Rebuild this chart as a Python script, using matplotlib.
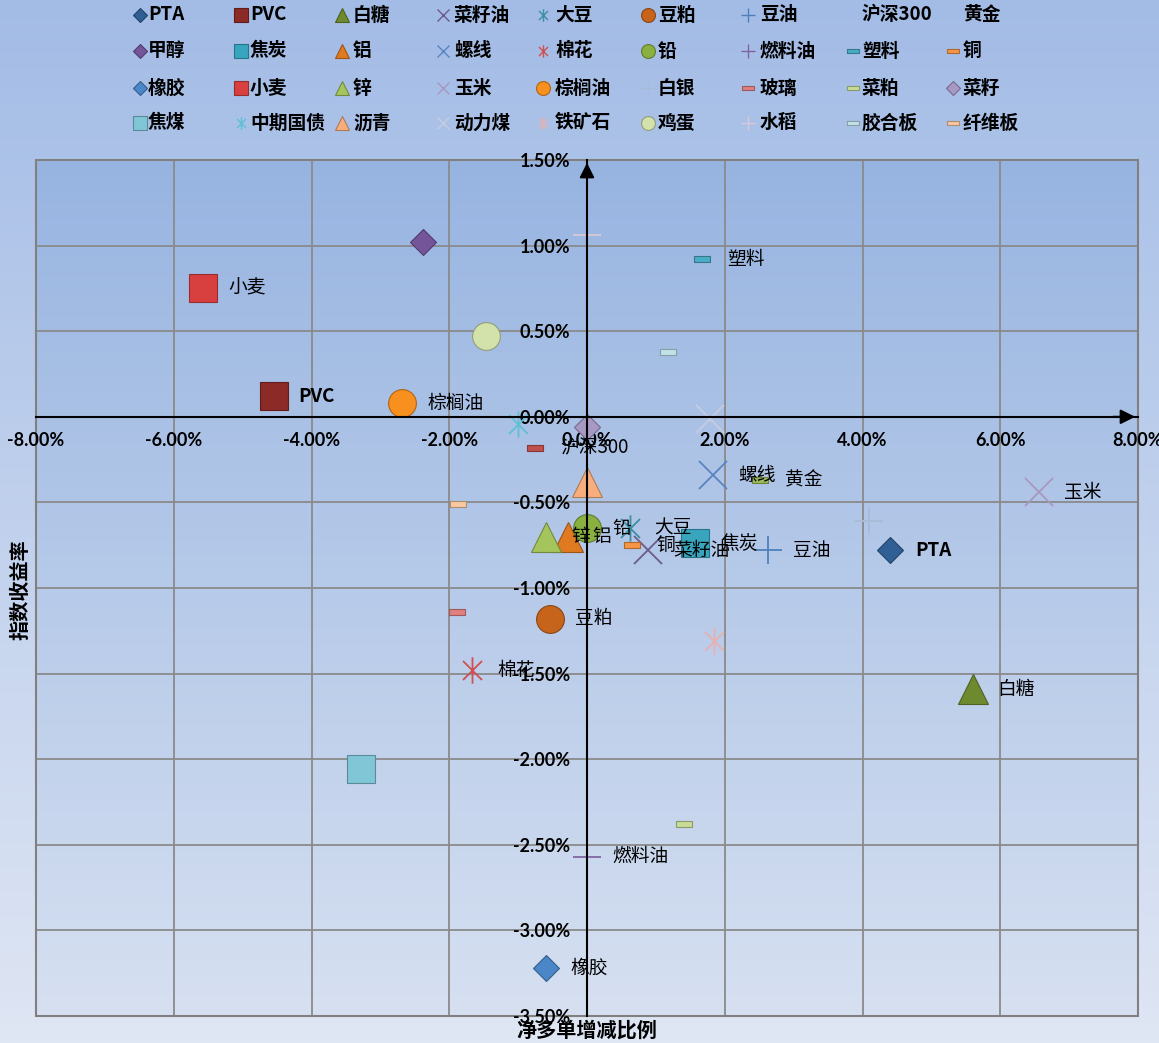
import matplotlib.pyplot as plt
import numpy as np
from matplotlib.path import Path
from matplotlib.patches import Rectangle
from matplotlib.colors import LinearSegmentedColormap

plt.rcParams['font.family'] = ['Noto Sans CJK SC', 'DejaVu Sans']

# 品种
names = ['PTA', 'PVC', '白糖', '菜籽油', '大豆', '豆粕', '豆油', '沪深300', '黄金',
         '甲醇', '焦炭', '铝', '螺线', '棉花', '铅', '燃料油', '塑料', '铜',
         '橡胶', '小麦', '锌', '玉米', '棕榈油', '白银', '玻璃', '菜粕', '菜籽',
         '焦煤', '中期国债', '沥青', '动力煤', '铁矿石', '鸡蛋', '水稻', '胶合板', '纤维板']

# 净多单增减比例 (%)
net_long_change = [4.40, -4.55, 5.60, 0.89, 0.62, -0.54, 2.63, -0.75, 2.51,
                   -2.38, 1.57, -0.28, 1.83, -1.67, 0.00, 0.00, 1.67, 0.65,
                   -0.60, -5.57, -0.59, 6.56, -2.68, 4.09, -1.89, 1.41, 0.00,
                   -3.28, -1.00, 0.00, 1.79, 1.84, -1.46, 0.00, 1.18, -1.87]

# 指数收益率 (%)
index_return = [-0.78, 0.12, -1.59, -0.78, -0.65, -1.18, -0.78, -0.18, -0.37,
                1.02, -0.74, -0.70, -0.34, -1.48, -0.65, -2.57, 0.92, -0.75,
                -3.22, 0.75, -0.70, -0.44, 0.08, -0.61, -1.14, -2.38, -0.06,
                -2.06, -0.04, -0.38, -0.01, -1.31, 0.47, 1.06, 0.38, -0.51]

labeled = ['PTA', 'PVC', '白糖', '菜籽油', '大豆', '豆粕', '豆油', '沪深300', '黄金',
           '焦炭', '铝', '螺线', '棉花', '铅', '燃料油', '塑料', '铜',
           '橡胶', '小麦', '锌', '玉米', '棕榈油']
no_legend_marker = ['沪深300', '黄金']

x_ticks = [-8, -6, -4, -2, 0, 2, 4, 6, 8]
y_ticks = [-3.5, -3.0, -2.5, -2.0, -1.5, -1.0, -0.5, 0.0, 0.5, 1.0, 1.5]

# 样式
kinds = ['D', 's', '^', 'x', 'star', 'o', '+', 'dash', 'dash',
         'D', 's', '^', 'x', 'star', 'o', '+', 'dash', 'dash',
         'D', 's', '^', 'x', 'o', '+', 'dash', 'dash', 'D',
         's', 'star', '^', 'x', 'star', 'o', '+', 'dash', 'dash']
colors = ['#2f5f94', '#8c2a27', '#6e8a2e', '#6c5b8c', '#3b8fa1', '#c7641c', '#4f7fba', '#c0504d', '#9bbb59',
          '#74559a', '#38a5bf', '#e07a20', '#5a84c0', '#d05050', '#8ab040', '#8064a2', '#4bacc6', '#f79646',
          '#4a86c8', '#d84040', '#a4c45c', '#a898c0', '#f7901e', '#a8bcd8', '#e08080', '#c8dc98', '#a898c4',
          '#80c6d6', '#5fc0d4', '#f8ae7c', '#c4cde0', '#e8b0b0', '#d2e2aa', '#d8c8d8', '#c2e2ea', '#f8c8a0']

star = Path([(0, -1), (0, 1), (-0.72, -0.72), (0.72, 0.72), (-0.72, 0.72), (0.72, -0.72)],
            [Path.MOVETO, Path.LINETO] * 3)
dash = Path([(-1, -0.33), (1, -0.33), (1, 0.33), (-1, 0.33), (-1, -0.33)],
            [Path.MOVETO, Path.LINETO, Path.LINETO, Path.LINETO, Path.CLOSEPOLY])
shape = {'D': 'D', 's': 's', '^': '^', 'x': 'x', 'star': star, 'o': 'o', '+': '+', 'dash': dash}
size = {'D': 13.5, 's': 19.5, '^': 21, 'x': 20, 'star': 19, 'o': 20, '+': 19.5, 'dash': 11}
leg_size = {'D': 7, 's': 10, '^': 10.5, 'x': 9, 'star': 9, 'o': 10, '+': 9.5, 'dash': 9}
line_kinds = ['x', '+', 'star']


def darker(c, f=0.7):
    r, g, b = plt.matplotlib.colors.to_rgb(c)
    return (r * f, g * f, b * f)


def draw(axx, x, y, k, c, ms, lw, z=2):
    if k in line_kinds:
        axx.plot(x, y, linestyle='none', marker=shape[k], ms=ms, color=c,
                 mew=lw, zorder=z, clip_on=False)
    else:
        axx.plot(x, y, linestyle='none', marker=shape[k], ms=ms, mfc=c,
                 mec=darker(c), mew=0.8, zorder=z, clip_on=False)


fig = plt.figure(figsize=(11.59, 10.43), dpi=100)

# 背景渐变
bg = fig.add_axes([0, 0, 1, 1], zorder=-10)
bg.imshow(np.linspace(0, 1, 256).reshape(-1, 1),
          cmap=LinearSegmentedColormap.from_list('bg', ['#a3bce6', '#dfe6f4']),
          aspect='auto', extent=(0, 1, 0, 1))
bg.axis('off')

ax = fig.add_axes([36 / 1159, 1 - 1016 / 1043, (1138 - 36) / 1159, (1016 - 160) / 1043])
ax.set_facecolor('none')
ax.imshow(np.linspace(0, 1, 256).reshape(-1, 1),
          cmap=LinearSegmentedColormap.from_list('pa', ['#97b4e1', '#d6e0f1']),
          aspect='auto', extent=(-8, 8, -3.5, 1.5), zorder=0)
ax.set_xlim(-8, 8)
ax.set_ylim(-3.5, 1.5)

for t in x_ticks:
    ax.axvline(t, color='#8a8a8a', lw=1.3, zorder=1)
for t in y_ticks:
    ax.axhline(t, color='#8a8a8a', lw=1.3, zorder=1)
ax.add_patch(Rectangle((0, 0), 1, 1, transform=ax.transAxes, fill=False,
                       ec='#808080', lw=1.5, zorder=1.5, clip_on=False))

ax.spines['left'].set_position(('data', 0))
ax.spines['bottom'].set_position(('data', 0))
ax.spines['top'].set_visible(False)
ax.spines['right'].set_visible(False)
for s in ['left', 'bottom']:
    ax.spines[s].set_color('black')
    ax.spines[s].set_linewidth(1.5)

ax.set_xticks(x_ticks)
ax.set_xticklabels([f'{v:.2f}%' for v in x_ticks])
ax.set_yticks(y_ticks)
ax.set_yticklabels([f'{v:.2f}%' for v in y_ticks])
ax.tick_params(length=0, labelsize=13)
ax.tick_params(axis='x', pad=11)
ax.tick_params(axis='y', pad=12)
for lab in ax.get_xticklabels() + ax.get_yticklabels():
    lab.set_family(['Lato', 'DejaVu Sans'])
    lab.set_fontweight('bold')

ax.annotate('', xy=(8, 0), xytext=(7.6, 0), annotation_clip=False,
            arrowprops=dict(arrowstyle='-|>', color='black', lw=1.5, mutation_scale=22))
ax.annotate('', xy=(0, 1.5), xytext=(0, 1.38), annotation_clip=False,
            arrowprops=dict(arrowstyle='-|>', color='black', lw=1.5, mutation_scale=22))

for i, n in enumerate(names):
    draw(ax, [net_long_change[i]], [index_return[i]], kinds[i], colors[i], size[kinds[i]], 1.3)
    if n in labeled:
        ax.annotate(n, (net_long_change[i], index_return[i]), xytext=(18, 0),
                    textcoords='offset points', va='center', ha='left', fontsize=13.5,
                    fontweight='bold' if n.isascii() else 'normal', zorder=3)

fig.text(20 / 1159, 1 - 590 / 1043, '指数收益率', rotation=90, ha='center', va='center',
         fontsize=14.5, fontweight='bold')
fig.text(587 / 1159, 1 - 1030 / 1043, '净多单增减比例', ha='center', va='center',
         fontsize=14.5, fontweight='bold')

# 图例
lax = fig.add_axes([0, 1 - 140 / 1043, 1, 140 / 1043])
lax.set_xlim(0, 1159)
lax.set_ylim(140, 0)
lax.axis('off')
col_mark = [140, 241, 342, 443, 543, 648, 748, 853, 953]
col_text = [148, 250, 353, 454, 555, 658, 760, 862, 963]
row_y = [15, 51, 88, 123]
for i, n in enumerate(names):
    r, c = divmod(i, 9)
    if n not in no_legend_marker:
        draw(lax, [col_mark[c]], [row_y[r]], kinds[i], colors[i], leg_size[kinds[i]], 1.0)
    lax.text(col_text[c], row_y[r], n, ha='left', va='center', fontsize=13.5, fontweight='bold')

fig.savefig('out.png', dpi=100)
